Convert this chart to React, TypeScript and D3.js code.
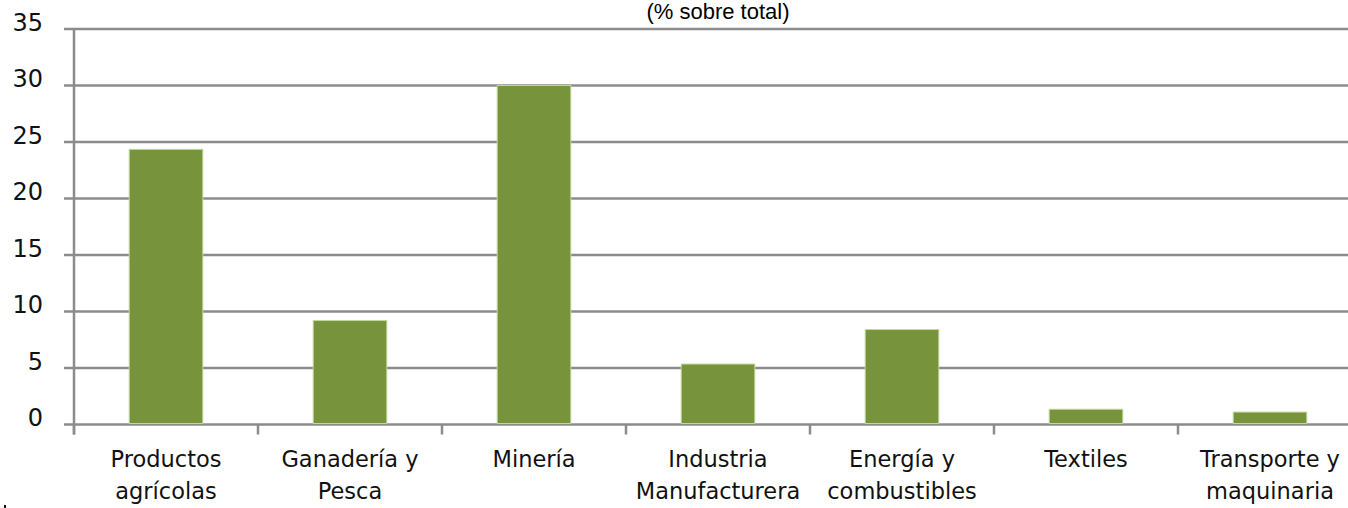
import React from "react";
import * as d3 from "d3";

const categories = [
  "Productos agrícolas",
  "Ganadería y Pesca",
  "Minería",
  "Industria Manufacturera",
  "Energía y combustibles",
  "Textiles",
  "Transporte y maquinaria",
];
const labelLines = [
  ["Productos", "agrícolas"],
  ["Ganadería y", "Pesca"],
  ["Minería"],
  ["Industria", "Manufacturera"],
  ["Energía y", "combustibles"],
  ["Textiles"],
  ["Transporte y", "maquinaria"],
];
const values = [24.35, 9.2, 30.0, 5.35, 8.4, 1.35, 1.1];
const yTicks = [0, 5, 10, 15, 20, 25, 30, 35];
const title = "(% sobre total)";

const W = 1348;
const H = 508;
const left = 74;
const right = 1362;
const top = 29;
const bottom = 424.5;

export default function App() {
  const x = d3
    .scaleBand<string>()
    .domain(categories)
    .range([left, right])
    .paddingInner(0.6)
    .paddingOuter(0.3);
  const step = (right - left) / categories.length;
  const y = d3.scaleLinear().domain([0, 35]).range([bottom, top]);
  const grid = "#8c8c8c";
  const font = "'DejaVu Sans', Verdana, sans-serif";

  return (
    <svg
      width={W}
      height={H}
      style={{ position: "absolute", left: 0, top: 0, background: "#fff" }}
    >
      <text
        x={(left + right) / 2}
        y={19}
        textAnchor="middle"
        fontFamily="'Liberation Sans', Arial, sans-serif"
        fontSize={22}
        fill="#000"
      >
        {title}
      </text>
      {yTicks.map((t) => (
        <g key={t}>
          <line
            x1={64}
            x2={W}
            y1={y(t)}
            y2={y(t)}
            stroke={grid}
            strokeWidth={2.5}
          />
          <text
            x={43}
            y={y(t) - 6.5}
            dy="0.35em"
            textAnchor="end"
            fontFamily={font}
            fontSize={24}
            fill="#111"
          >
            {t}
          </text>
        </g>
      ))}
      <line x1={left} x2={left} y1={top - 1} y2={bottom + 10} stroke={grid} strokeWidth={2.5} />
      {d3.range(categories.length + 1).map((i) => (
        <line
          key={i}
          x1={left + i * step}
          x2={left + i * step}
          y1={bottom}
          y2={bottom + 10}
          stroke={grid}
          strokeWidth={2.5}
        />
      ))}
      {categories.map((c, i) => (
        <rect
          key={c}
          x={x(c)}
          y={y(values[i])}
          width={x.bandwidth()}
          height={y(0) - y(values[i]) - 1}
          fill="#77933C"
          stroke="#c3d69b"
          strokeWidth={1}
        />
      ))}
      {categories.map((c, i) => (
        <text
          key={c}
          x={(x(c) as number) + x.bandwidth() / 2}
          textAnchor="middle"
          fontFamily={font}
          fontSize={22.5}
          fill="#111"
        >
          {labelLines[i].map((ln, j) => (
            <tspan key={j} x={(x(c) as number) + x.bandwidth() / 2} y={467 + j * 32}>
              {ln}
            </tspan>
          ))}
        </text>
      ))}
      <rect x={4} y={505} width={2} height={3} fill="#111" />
    </svg>
  );
}
